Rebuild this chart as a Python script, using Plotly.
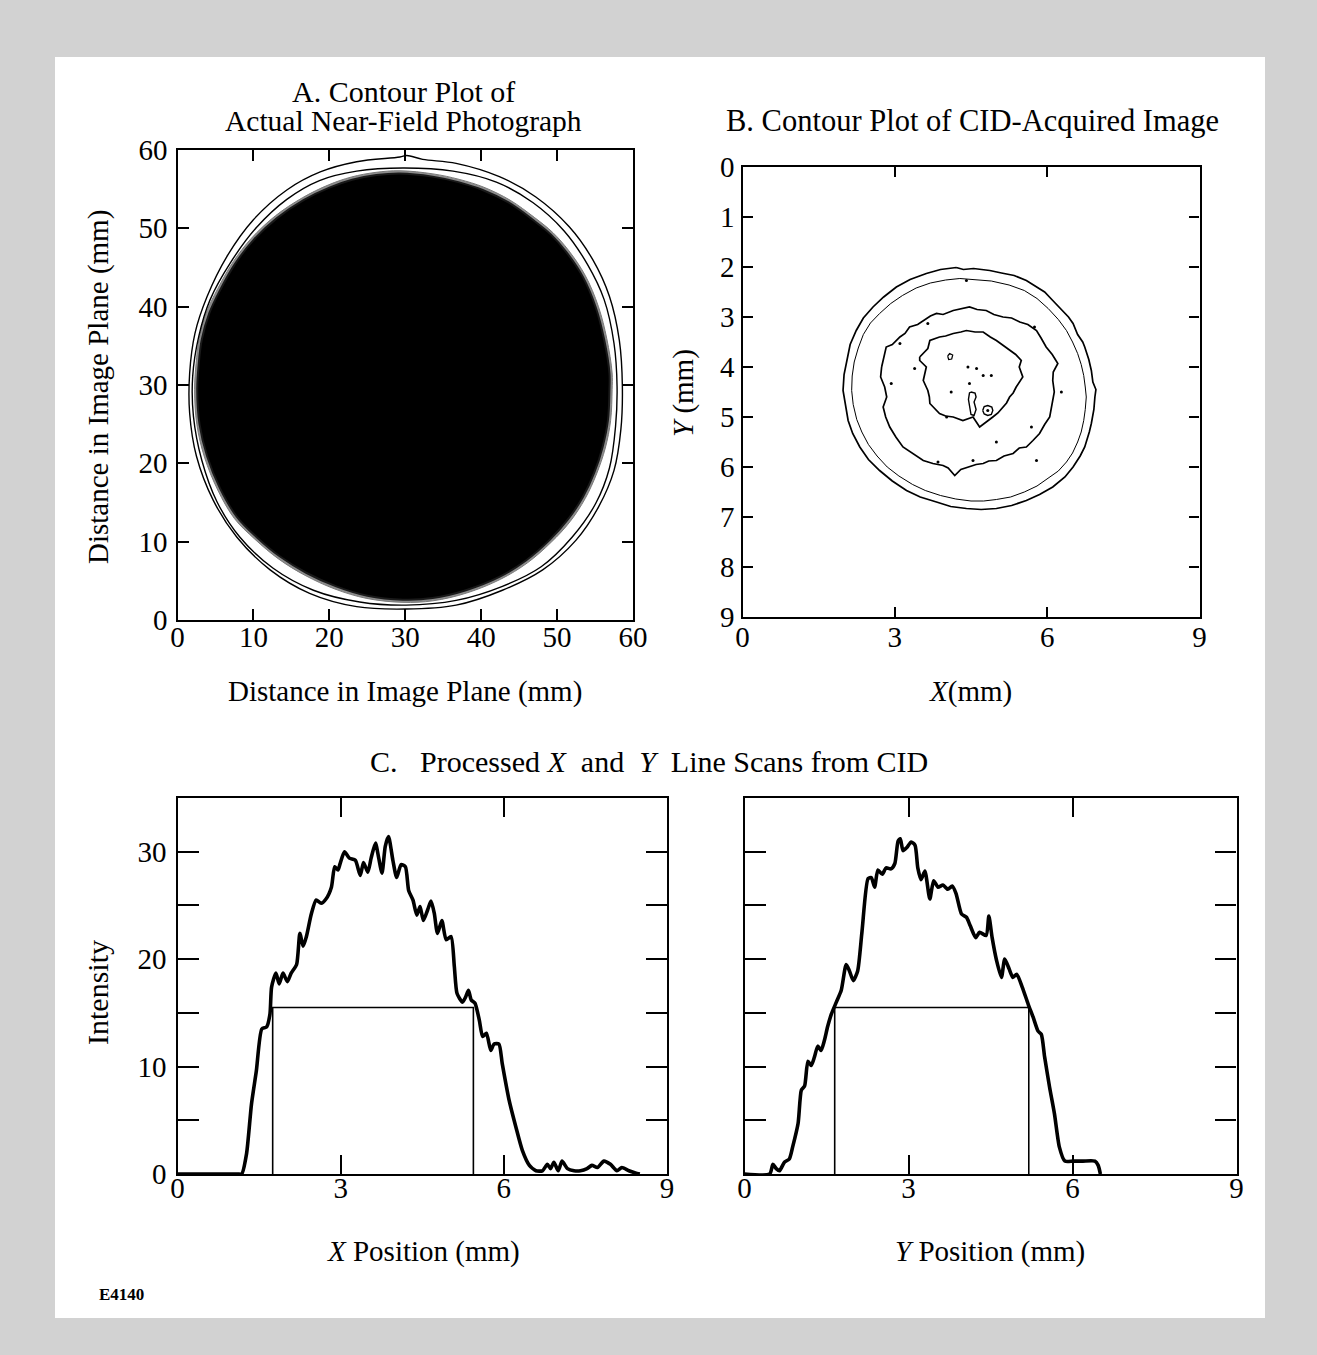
import plotly.graph_objects as go

W, H = 1317, 1355
FONT = "Liberation Serif"

# ---------------- Panel A: contour polygons (mm) ----------------
A_outer_x = [29.3, 30.2, 32.3, 36.7, 42.4, 47.2, 51.6, 54.7, 56.9, 58.2, 58.6, 58.4, 57.5, 55.5, 52.5, 48.1,
             42.8, 36.7, 30.1, 23.6, 17.4, 12.2, 7.8, 4.7, 2.5, 1.6, 1.6, 2.3, 3.9, 6.5, 10.0, 14.4, 18.8,
             23.6, 29.3]
A_outer_y = [59.1, 59.3, 58.8, 58.3, 56.6, 54.0, 50.2, 46.0, 41.3, 35.7, 29.8, 24.3, 19.1, 14.5, 10.2, 6.4,
             3.8, 1.9, 1.4, 1.7, 3.4, 6.4, 10.6, 15.3, 20.9, 26.4, 31.5, 36.6, 41.3, 46.4, 51.1, 54.9, 57.2,
             58.5, 59.1]
A_inner_x = [29.7, 36.3, 42.0, 46.8, 50.9, 54.0, 56.2, 57.5, 57.9, 57.7, 56.9, 55.1, 52.0, 47.9, 42.8, 36.7,
             30.1, 24.0, 17.9, 12.6, 8.2, 5.2, 3.2, 2.1, 2.0, 2.8, 4.3, 6.9, 10.4, 14.4, 18.7, 23.6, 29.7]
A_inner_y = [57.7, 57.3, 55.9, 53.3, 49.7, 45.4, 40.9, 35.3, 29.8, 24.7, 19.4, 14.9, 10.6, 6.8, 4.3, 2.5,
             1.9, 2.3, 3.8, 6.6, 10.6, 15.1, 20.4, 26.0, 31.1, 36.2, 40.9, 45.5, 50.1, 53.7, 56.1, 57.3, 57.7]
A_halo_x = [29.3, 33.65, 37.1, 40.35, 43.8, 47.0, 49.45, 51.5, 53.7, 55.45, 56.55, 57.25, 57.25, 57.05, 56.35,
            55.2, 53.7, 51.7, 49.25, 46.1, 42.55, 38.1, 33.65, 29.7, 24.95, 20.75, 16.8, 13.3, 10.15, 7.5,
            5.3, 3.55, 2.55, 2.25, 2.45, 2.85, 3.85, 5.3, 7.35, 9.75, 12.9, 16.45, 19.9, 22.9, 26.15, 29.3]
A_halo_y = [57.35, 56.95, 56.25, 55.25, 53.6, 51.4, 49.45, 47.2, 44.0, 40.0, 35.9, 31.55, 29.4, 25.45, 21.95,
            18.65, 15.5, 12.55, 9.95, 7.3, 5.2, 3.45, 2.45, 2.25, 2.75, 3.95, 5.7, 7.8, 10.35, 12.95,
            16.6, 20.8, 24.95, 29.4, 32.75, 35.9, 39.35, 42.3, 45.75, 48.75, 51.6, 53.9, 55.55, 56.55, 57.15, 57.35]
A_disc_x = [29.3, 33.6, 37.0, 40.2, 43.6, 46.8, 49.2, 51.2, 53.4, 55.1, 56.2, 56.9, 56.9, 56.7, 56.0,
            54.9, 53.4, 51.4, 49.0, 45.9, 42.4, 38.0, 33.6, 29.7, 25.0, 20.9, 17.0, 13.5, 10.4, 7.8,
            5.6, 3.9, 2.9, 2.6, 2.8, 3.2, 4.2, 5.6, 7.6, 10.0, 13.1, 16.6, 20.0, 23.0, 26.2, 29.3]
A_disc_y = [57.0, 56.6, 55.9, 54.9, 53.3, 51.1, 49.2, 47.0, 43.8, 39.9, 35.8, 31.5, 29.4, 25.5, 22.1,
            18.8, 15.7, 12.8, 10.2, 7.6, 5.5, 3.8, 2.8, 2.6, 3.1, 4.3, 6.0, 8.1, 10.6, 13.2,
            16.8, 20.9, 25.0, 29.4, 32.7, 35.8, 39.2, 42.1, 45.5, 48.5, 51.3, 53.6, 55.2, 56.2, 56.8, 57.0]

# ---------------- Panel B: contour polygons (mm) ----------------
B1 = [(4.21, 2.01), (4.35, 2.05), (4.55, 2.03), (4.87, 2.07), (5.1, 2.12), (5.35, 2.17), (5.59, 2.27),
      (5.8, 2.4), (5.95, 2.5), (6.11, 2.67), (6.3, 2.88), (6.42, 3.0), (6.51, 3.13), (6.6, 3.35), (6.7, 3.5),
      (6.74, 3.6), (6.82, 3.85), (6.87, 4.07), (6.9, 4.3), (6.96, 4.45), (6.94, 4.6), (6.92, 4.85),
      (6.87, 5.13), (6.83, 5.3), (6.74, 5.6), (6.65, 5.78), (6.51, 6.0), (6.35, 6.2), (6.11, 6.4),
      (5.85, 6.55), (5.59, 6.67), (5.3, 6.77), (5.0, 6.83), (4.7, 6.85), (4.41, 6.83), (4.1, 6.79),
      (3.82, 6.7), (3.5, 6.6), (3.23, 6.47), (2.95, 6.28), (2.70, 6.07), (2.48, 5.85), (2.31, 5.6),
      (2.17, 5.33), (2.08, 5.07), (2.02, 4.75), (1.98, 4.47), (2.0, 4.15), (2.05, 3.87), (2.12, 3.55),
      (2.24, 3.27), (2.38, 3.02), (2.57, 2.8), (2.78, 2.6), (3.03, 2.4), (3.3, 2.25), (3.62, 2.13),
      (3.9, 2.05), (4.21, 2.01)]
B2 = [(4.28, 2.23), (4.6, 2.25), (4.9, 2.28), (5.25, 2.36), (5.55, 2.47), (5.8, 2.63), (6.02, 2.83),
      (6.22, 3.05), (6.38, 3.27), (6.5, 3.5), (6.6, 3.73), (6.67, 3.95), (6.72, 4.17), (6.75, 4.4),
      (6.77, 4.6), (6.75, 4.85), (6.72, 5.07), (6.67, 5.3), (6.6, 5.5), (6.5, 5.72), (6.38, 5.9),
      (6.22, 6.08), (6.02, 6.23), (5.8, 6.38), (5.55, 6.5), (5.28, 6.6), (5.0, 6.65), (4.75, 6.68),
      (4.5, 6.68), (4.2, 6.64), (3.9, 6.57), (3.6, 6.47), (3.35, 6.35), (3.08, 6.18), (2.85, 6.0),
      (2.65, 5.78), (2.48, 5.55), (2.35, 5.3), (2.25, 5.05), (2.18, 4.75), (2.15, 4.47), (2.16, 4.18),
      (2.2, 3.9), (2.28, 3.62), (2.38, 3.35), (2.52, 3.12), (2.7, 2.93), (2.92, 2.73), (3.15, 2.57),
      (3.42, 2.42), (3.7, 2.32), (4.0, 2.26), (4.28, 2.23)]
B3 = [(2.74, 4.0), (2.83, 3.6), (2.95, 3.55), (3.10, 3.4), (3.2, 3.33), (3.29, 3.2), (3.45, 3.15),
      (3.56, 3.07), (3.7, 2.98), (3.82, 2.93), (3.95, 2.95), (4.15, 2.87), (4.3, 2.84), (4.47, 2.8),
      (4.62, 2.85), (4.80, 2.87), (4.95, 2.95), (5.13, 3.0), (5.3, 3.02), (5.46, 3.1), (5.62, 3.15),
      (5.79, 3.27), (5.88, 3.42), (5.98, 3.6), (6.1, 3.75), (6.21, 3.93), (6.12, 4.1), (6.11, 4.27),
      (6.14, 4.5), (6.11, 4.67), (6.08, 4.85), (6.05, 5.0), (5.95, 5.15), (5.85, 5.33), (5.72, 5.47),
      (5.59, 5.6), (5.45, 5.62), (5.33, 5.73), (5.15, 5.78), (5.0, 5.87), (4.85, 5.88), (4.74, 5.93),
      (4.6, 5.95), (4.47, 6.0), (4.3, 6.05), (4.18, 6.17), (4.05, 6.02), (3.95, 5.97), (3.75, 5.93),
      (3.56, 5.87), (3.35, 5.72), (3.16, 5.6), (3.02, 5.4), (2.90, 5.2), (2.82, 5.0), (2.77, 4.8),
      (2.84, 4.6), (2.80, 4.4), (2.72, 4.2), (2.74, 4.0)]
B4 = [(3.49, 3.8), (3.65, 3.63), (3.69, 3.47), (3.88, 3.4), (4.0, 3.38), (4.15, 3.33), (4.3, 3.3),
      (4.41, 3.27), (4.58, 3.3), (4.74, 3.3), (4.88, 3.4), (5.0, 3.47), (5.15, 3.58), (5.26, 3.67),
      (5.38, 3.75), (5.49, 3.87), (5.45, 4.0), (5.52, 4.2), (5.39, 4.4), (5.33, 4.52), (5.26, 4.6),
      (5.2, 4.72), (5.13, 4.8), (5.03, 4.92), (4.93, 5.0), (4.8, 5.1), (4.67, 5.2), (4.54, 5.0),
      (4.34, 5.07), (4.15, 5.0), (4.0, 4.98), (3.88, 4.93), (3.82, 4.87), (3.69, 4.73), (3.68, 4.6),
      (3.65, 4.47), (3.56, 4.27), (3.6, 4.12), (3.62, 4.0), (3.49, 3.87), (3.49, 3.8)]
B_blob = [(4.5, 4.5), (4.58, 4.52), (4.6, 4.6), (4.56, 4.7), (4.6, 4.85), (4.56, 4.97), (4.5, 4.95),
          (4.48, 4.8), (4.45, 4.65), (4.47, 4.52), (4.5, 4.5)]
B_ring = [(4.73, 4.87), (4.76, 4.79), (4.83, 4.77), (4.91, 4.8), (4.93, 4.87), (4.9, 4.95), (4.83, 4.97),
          (4.76, 4.94), (4.73, 4.87)]
B_loop = [(4.04, 3.78), (4.08, 3.73), (4.14, 3.76), (4.12, 3.84), (4.06, 3.85), (4.04, 3.78)]
B_specks_x = [4.41, 3.65, 3.10, 3.39, 4.44, 4.61, 4.74, 4.90, 4.47, 4.11, 4.02, 5.69, 3.85, 4.54, 5.0, 6.28,
              5.75, 5.79, 4.83, 2.93]
B_specks_y = [2.27, 3.13, 3.53, 4.03, 4.0, 4.03, 4.17, 4.17, 4.33, 4.5, 5.0, 5.2, 5.9, 5.87, 5.5, 4.5,
              3.2, 5.87, 4.87, 4.33]

# ---------------- Panel C: line scans ----------------
xscan_pos = [0.0, 1.10, 1.18, 1.27, 1.36, 1.45, 1.55, 1.64, 1.70, 1.73, 1.81, 1.87, 1.94, 2.02, 2.09, 2.19,
             2.25, 2.31, 2.37, 2.46, 2.55, 2.64, 2.73, 2.83, 2.89, 2.95, 2.99, 3.07, 3.16, 3.27, 3.36,
             3.42, 3.50, 3.56, 3.64, 3.70, 3.76, 3.82, 3.88, 3.96, 4.03, 4.11, 4.19, 4.25, 4.33, 4.40,
             4.46, 4.52, 4.60, 4.66, 4.72, 4.78, 4.86, 4.94, 5.03, 5.09, 5.14, 5.24, 5.30, 5.35, 5.40,
             5.47, 5.55, 5.61, 5.68, 5.76, 5.82, 5.91, 5.97, 6.10, 6.22, 6.34, 6.47, 6.59, 6.71, 6.80,
             6.86, 6.92, 7.00, 7.07, 7.17, 7.29, 7.41, 7.53, 7.62, 7.72, 7.84, 7.96, 8.08, 8.17, 8.30,
             8.42, 8.50]
xscan_int = [0.0, 0.0, 0.0, 1.9, 6.5, 9.6, 13.5, 13.7, 14.9, 17.4, 18.7, 17.7, 18.7, 17.9, 18.7, 19.5,
             22.4, 21.2, 22.1, 24.2, 25.5, 25.2, 25.6, 26.7, 28.6, 28.3, 28.9, 30.0, 29.4, 29.2, 27.8,
             29.0, 28.1, 29.4, 30.8, 29.4, 28.0, 30.5, 31.4, 29.2, 27.6, 28.8, 28.6, 26.4, 25.5, 24.1,
             24.9, 23.6, 24.6, 25.4, 24.3, 22.4, 23.6, 21.8, 22.1, 19.3, 16.8, 16.0, 16.5, 17.1, 16.2,
             15.9, 14.3, 12.8, 13.1, 11.5, 12.1, 12.1, 10.3, 6.8, 4.4, 2.2, 0.8, 0.3, 0.3, 0.9,
             0.5, 1.1, 0.3, 1.2, 0.5, 0.3, 0.3, 0.5, 0.8, 0.6, 1.2, 0.9, 0.3, 0.6, 0.3,
             0.1, 0.0]
yscan_pos = [0.0, 0.46, 0.52, 0.58, 0.64, 0.73, 0.82, 0.88, 0.98, 1.04, 1.10, 1.16, 1.22, 1.28, 1.34, 1.40,
             1.46, 1.52, 1.59, 1.68, 1.77, 1.86, 1.92, 1.99, 2.07, 2.15, 2.26, 2.32, 2.38, 2.44, 2.52,
             2.59, 2.68, 2.75, 2.81, 2.85, 2.90, 2.97, 3.05, 3.12, 3.17, 3.23, 3.30, 3.39, 3.46, 3.54,
             3.63, 3.72, 3.80, 3.87, 3.97, 4.06, 4.13, 4.23, 4.30, 4.42, 4.47, 4.53, 4.61, 4.70, 4.76,
             4.84, 4.91, 4.98, 5.08, 5.19, 5.28, 5.37, 5.43, 5.49, 5.58, 5.67, 5.76, 5.86, 6.01, 6.19,
             6.41, 6.47, 6.51]
yscan_int = [0.0, 0.0, 0.9, 0.5, 0.3, 1.1, 1.4, 2.5, 4.7, 7.8, 8.2, 10.5, 10.1, 10.9, 11.9, 11.5,
             12.4, 13.7, 14.9, 16.0, 17.1, 19.5, 18.9, 18.0, 18.9, 22.6, 27.5, 27.6, 26.7, 28.3, 27.9,
             28.5, 28.4, 28.9, 31.0, 31.2, 30.1, 30.4, 30.9, 30.6, 28.5, 27.4, 28.2, 25.6, 27.3, 26.7,
             26.9, 26.5, 26.8, 26.1, 24.2, 23.9, 23.1, 22.0, 22.5, 22.2, 24.0, 22.0, 19.9, 18.3, 20.0,
             19.1, 18.3, 18.6, 17.4, 15.8, 14.6, 13.3, 13.0, 10.9, 8.1, 5.6, 2.5, 1.2, 1.2, 1.2,
             1.2, 0.8, 0.0]
x_fwhm = [1.75, 5.44]   # left / right edges of the X-scan half-maximum box
y_fwhm = [1.65, 5.20]   # left / right edges of the Y-scan half-maximum box
half_level = [15.5, 15.5]  # half-maximum level for X and Y scans

A_ticks = [0, 10, 20, 30, 40, 50, 60]
B_xticks = [0, 3, 6, 9]
B_yticks = [0, 1, 2, 3, 4, 5, 6, 7, 8, 9]
C_xticks = [0, 3, 6, 9]
C_yticks = [0, 5, 10, 15, 20, 25, 30, 35]
C_yticktext = ["0", "", "10", "", "20", "", "30", ""]

fig = go.Figure()


def poly(pts):
    return [p[0] for p in pts], [p[1] for p in pts]


# Panel A
fig.add_trace(go.Scatter(x=A_halo_x, y=A_halo_y, fill="toself", fillcolor="#8c8c8c", mode="lines",
                         line=dict(color="#7a7a7a", width=1, shape="spline"), xaxis="x", yaxis="y", hoverinfo="skip"))
fig.add_trace(go.Scatter(x=A_disc_x, y=A_disc_y, fill="toself", fillcolor="#000000", mode="lines",
                         line=dict(color="#1a1a1a", width=2, shape="spline"), xaxis="x", yaxis="y", hoverinfo="skip"))
fig.add_trace(go.Scatter(x=A_inner_x, y=A_inner_y, mode="lines", line=dict(color="black", width=1.4, shape="spline"),
                         xaxis="x", yaxis="y"))
fig.add_trace(go.Scatter(x=A_outer_x, y=A_outer_y, mode="lines", line=dict(color="black", width=1.4, shape="spline"),
                         xaxis="x", yaxis="y"))

# Panel B
for pts, w in [(B1, 1.7), (B2, 1.0), (B3, 1.7), (B4, 1.7), (B_blob, 1.4), (B_ring, 1.4), (B_loop, 1.2)]:
    px_, py_ = poly(pts)
    fig.add_trace(go.Scatter(x=px_, y=py_, mode="lines", line=dict(color="black", width=w),
                             xaxis="x2", yaxis="y2"))
fig.add_trace(go.Scatter(x=B_specks_x, y=B_specks_y, mode="markers", marker=dict(color="black", size=3),
                         xaxis="x2", yaxis="y2"))

# Panel C
fig.add_trace(go.Scatter(x=xscan_pos, y=xscan_int, mode="lines",
                         line=dict(color="black", width=3.6, shape="spline", smoothing=0.6),
                         xaxis="x3", yaxis="y3"))
fig.add_trace(go.Scatter(x=[x_fwhm[0], x_fwhm[0], x_fwhm[1], x_fwhm[1]],
                         y=[0, half_level[0], half_level[0], 0], mode="lines",
                         line=dict(color="black", width=1.6), xaxis="x3", yaxis="y3"))
fig.add_trace(go.Scatter(x=yscan_pos, y=yscan_int, mode="lines",
                         line=dict(color="black", width=3.6, shape="spline", smoothing=0.6),
                         xaxis="x4", yaxis="y4"))
fig.add_trace(go.Scatter(x=[y_fwhm[0], y_fwhm[0], y_fwhm[1], y_fwhm[1]],
                         y=[0, half_level[1], half_level[1], 0], mode="lines",
                         line=dict(color="black", width=1.6), xaxis="x4", yaxis="y4"))


def dom_x(a, b):
    return [a / W, b / W]


def dom_y(top, bottom):
    return [1 - bottom / H, 1 - top / H]


tickfont = dict(family=FONT, size=29, color="black")


def axis(domain, rng, tickvals, ticktext=None, ticklen=10, anchor=None, showlabels=True, standoff=4):
    d = dict(domain=domain, range=rng, tickmode="array", tickvals=tickvals, ticks="inside", ticklen=ticklen,
             tickwidth=1.6, tickcolor="black", showline=True, linewidth=2.2, linecolor="black", mirror="ticks",
             showgrid=False, zeroline=False, tickfont=tickfont, showticklabels=showlabels, fixedrange=True,
             anchor=anchor, ticklabelstandoff=standoff)
    if ticktext is not None:
        d["ticktext"] = ticktext
    return d


fig.update_layout(
    width=W, height=H, margin=dict(l=0, r=0, t=0, b=0, autoexpand=False), showlegend=False,
    paper_bgcolor="#d2d2d2", plot_bgcolor="white",
    xaxis=axis(dom_x(177.5, 633), [0, 60], A_ticks, ticklen=11, anchor="y", standoff=-10),
    yaxis=axis(dom_y(150, 620), [0, 60], A_ticks, ticklen=11, anchor="x", standoff=2),
    xaxis2=axis(dom_x(742.5, 1199.5), [0, 9], B_xticks, ticklen=10, anchor="y2", standoff=-7),
    yaxis2=axis(dom_y(167, 617), [9, 0], B_yticks, ticklen=10, anchor="x2", standoff=0),
    xaxis3=axis(dom_x(177.5, 667), [0, 9], C_xticks, ticklen=19, anchor="y3", standoff=-13),
    yaxis3=axis(dom_y(798, 1174), [0, 35], C_yticks, C_yticktext, ticklen=21, anchor="x3", standoff=3),
    xaxis4=axis(dom_x(744.5, 1236.5), [0, 9], C_xticks, ticklen=19, anchor="y4", standoff=-13),
    yaxis4=axis(dom_y(798, 1174), [0, 35], C_yticks, C_yticktext, ticklen=21, anchor="x4", showlabels=False),
)

# white page area inside the halftone border
fig.add_shape(type="rect", xref="paper", yref="paper", x0=55 / W, x1=1265 / W, y0=1 - 1318 / H, y1=1 - 57 / H,
              fillcolor="white", line=dict(width=0), layer="below")


def ann(text, px, py, size=29, angle=0, xanchor="center", bold=False):
    return dict(text=("<b>%s</b>" % text) if bold else text, x=px / W, y=1 - py / H, xref="paper", yref="paper",
                showarrow=False, textangle=angle, xanchor=xanchor, yanchor="middle",
                font=dict(family=FONT, size=size, color="black"))


fig.update_layout(annotations=[
    ann("A. Contour Plot of", 403, 92, size=30),
    ann("Actual Near-Field Photograph", 403, 121, size=29.5),
    ann("B. Contour Plot of CID-Acquired Image", 972, 121, size=30.5),
    ann("Distance in Image Plane (mm)", 405, 691),
    ann("<i>X</i>(mm)", 970, 691),
    ann("Distance in Image Plane (mm)", 98, 387, angle=-90),
    ann("<i>Y</i> (mm)", 683, 393, angle=-90),
    ann("C.   Processed <i>X</i>  and  <i>Y</i>  Line Scans from CID", 649, 761, size=30),
    ann("Intensity", 98, 993, size=30, angle=-90),
    ann("<i>X</i> Position (mm)", 423, 1251),
    ann("<i>Y</i> Position (mm)", 990, 1251),
    ann("E4140", 97, 1294, size=17, xanchor="left", bold=True),
])

fig.write_html("out.html", config={"displayModeBar": False},
               post_script="document.body.style.margin='0';document.body.style.overflow='hidden';")
